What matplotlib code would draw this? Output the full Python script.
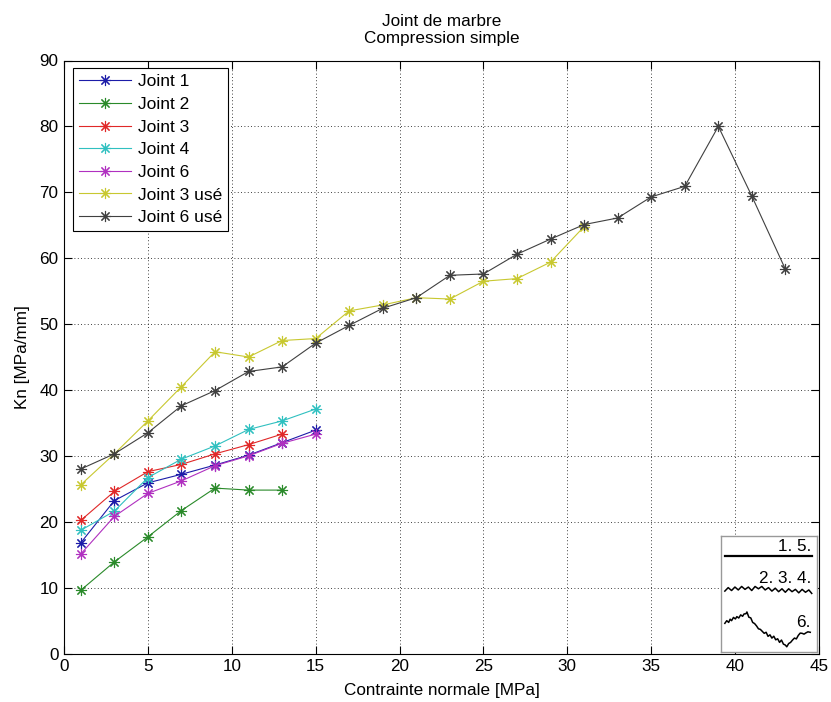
import matplotlib
matplotlib.use("Agg")
import matplotlib.pyplot as plt

plt.rcParams['font.family'] = ['Liberation Sans', 'DejaVu Sans']

# ---- data ----
x_j1 = [1, 3, 5, 7, 9, 11, 13, 15]
y_j1 = [16.8, 23.2, 25.9, 27.2, 28.6, 30.1, 32.0, 33.9]
x_j2 = [1, 3, 5, 7, 9, 11, 13]
y_j2 = [9.6, 13.9, 17.7, 21.7, 25.1, 24.8, 24.8]
x_j3 = [1, 3, 5, 7, 9, 11, 13]
y_j3 = [20.2, 24.6, 27.6, 28.7, 30.3, 31.7, 33.3]
x_j4 = [1, 3, 5, 7, 9, 11, 13, 15]
y_j4 = [18.7, 21.6, 26.7, 29.5, 31.5, 34.0, 35.3, 37.1]
x_j6 = [1, 3, 5, 7, 9, 11, 13, 15]
y_j6 = [15.1, 20.8, 24.3, 26.2, 28.5, 30.0, 31.9, 33.3]
x_j3u = [1, 3, 5, 7, 9, 11, 13, 15, 17, 19, 21, 23, 25, 27, 29, 31]
y_j3u = [25.6, 30.3, 35.3, 40.5, 45.8, 45.0, 47.5, 47.8, 52.0, 52.9, 54.0,
         53.8, 56.5, 56.9, 59.4, 64.8]
x_j6u = [1, 3, 5, 7, 9, 11, 13, 15, 17, 19, 21, 23, 25, 27, 29, 31, 33, 35,
         37, 39, 41, 43]
y_j6u = [28.0, 30.3, 33.5, 37.6, 39.9, 42.8, 43.5, 47.1, 49.8, 52.4, 54.0,
         57.4, 57.6, 60.6, 62.9, 65.1, 66.1, 69.3, 70.9, 80.0, 69.4, 58.3]

labels = ['Joint 1', 'Joint 2', 'Joint 3', 'Joint 4', 'Joint 6',
          'Joint 3 usé', 'Joint 6 usé']
colors = ['#1c1ca8', '#2a8a2a', '#e02828', '#30c0c0', '#b030c0',
          '#c8c830', '#404040']

xticks = [0, 5, 10, 15, 20, 25, 30, 35, 40, 45]
yticks = [0, 10, 20, 30, 40, 50, 60, 70, 80, 90]

# inset profile sketches (inset coordinates 0-100)
flat_u = [4, 94.5]
flat_v = [82.8, 82.8]
wave_u = [4, 7.5, 11, 14.5, 18, 21.5, 25, 28.5, 32, 35.5, 39, 42.5, 46,
          49.5, 53, 56.5, 60, 63.5, 67, 70.5, 74, 77.5, 81, 84.5, 88, 91.5,
          94.5]
wave_v = [52.5, 55.5, 53.0, 56.0, 53.5, 56.5, 54.0, 56.0, 53.0, 56.5, 54.5,
          56.5, 53.5, 55.5, 52.5, 55.0, 52.0, 54.5, 51.5, 54.5, 52.0, 54.0,
          51.0, 54.0, 51.5, 53.5, 50.5]
prof_u = [4, 6, 8, 9.5, 11, 13, 15, 16.5, 18.5, 20.5, 22.5, 24, 26, 27, 29,
          31, 33, 35, 37, 39, 41, 43, 45, 47, 49, 51, 53, 55, 57, 59, 61, 63,
          65, 67, 68.5, 70.5, 72.5, 74.5, 76.5, 78.5, 80.5, 82.5, 84.5, 86.5,
          88.5, 90.5, 93]
prof_v = [24.7, 27.0, 25.5, 28.3, 27.0, 29.8, 28.5, 30.5, 29.3, 32.0, 30.8,
          32.8, 33.0, 34.5, 30.0, 29.4, 25.5, 24.5, 22.5, 20.0, 19.5, 17.8,
          16.1, 17.0, 13.5, 14.8, 12.0, 13.6, 10.5, 11.4, 8.3, 10.3, 6.8, 6.0,
          4.5, 7.3, 8.3, 10.3, 12.0, 11.3, 14.3, 16.3, 16.1, 15.4, 16.5, 17.4,
          17.0]

FS = 12.3

# ---- figure ----
fig = plt.figure(figsize=(8.31, 7.02), dpi=100)
ax = fig.add_axes([64 / 831, 1 - 653.5 / 702, 755 / 831, 593 / 702])

series = [(x_j1, y_j1), (x_j2, y_j2), (x_j3, y_j3), (x_j4, y_j4),
          (x_j6, y_j6), (x_j3u, y_j3u), (x_j6u, y_j6u)]
for (xs, ys), lab, col in zip(series, labels, colors):
    ax.plot(xs, ys, color=col, lw=0.8, marker=(8, 2, 0), markersize=8,
            markeredgewidth=0.8, label=lab)

ax.set_xlim(0, 45)
ax.set_ylim(0, 90)
ax.set_xticks(xticks)
ax.set_yticks(yticks)
ax.tick_params(direction='in', length=5.5, width=0.8, top=True, right=True,
               labelsize=FS, pad=4)
ax.grid(True, color='k', linestyle=(0, (1, 3)), linewidth=0.6)
for s in ax.spines.values():
    s.set_linewidth(0.8)

ax.set_title('Joint de marbre\nCompression simple', fontsize=FS, pad=12.5)
ax.set_xlabel('Contrainte normale [MPa]', fontsize=FS, labelpad=6.5)
ax.set_ylabel('Kn [MPa/mm]', fontsize=FS, labelpad=6.5)

leg = ax.legend(loc='upper left', bbox_to_anchor=(0.0115, 0.987),
                borderaxespad=0, fontsize=12.5, handlelength=3.0,
                labelspacing=0.43, fancybox=False, framealpha=1,
                edgecolor='k', borderpad=0.35, handletextpad=0.4)
leg.get_frame().set_linewidth(0.8)

# ---- inset sketch ----
ins = fig.add_axes([721 / 831, 1 - 652 / 702, 96 / 831, 116 / 702])
ins.set_xlim(0, 100)
ins.set_ylim(0, 100)
ins.set_xticks([])
ins.set_yticks([])
for s in ins.spines.values():
    s.set_edgecolor('#999999')
    s.set_linewidth(1.0)
ins.plot(flat_u, flat_v, color='k', lw=1.6)
ins.plot(wave_u, wave_v, color='k', lw=1.1)
ins.plot(prof_u, prof_v, color='k', lw=1.1)
ins.text(94.5, 84.5, '1. 5.', ha='right', va='bottom', fontsize=FS)
ins.text(94.5, 56.8, '2. 3. 4.', ha='right', va='bottom', fontsize=FS)
ins.text(93, 19, '6.', ha='right', va='bottom', fontsize=FS)

fig.savefig('out.png', dpi=100)
